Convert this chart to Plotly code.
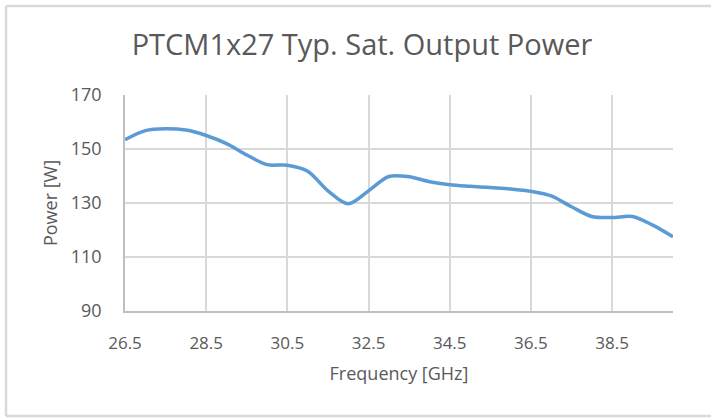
import plotly.graph_objects as go

freq = [26.5, 27.0, 27.5, 28.0, 28.5, 29.0, 29.5, 30.0, 30.5, 31.0, 31.5, 32.0, 32.5, 33.0,
        33.5, 34.0, 34.5, 35.0, 35.5, 36.0, 36.5, 37.0, 37.5, 38.0, 38.5, 39.0, 39.5, 40.0]
power = [153.4, 156.8, 157.5, 157.0, 155.0, 152.0, 147.8, 144.2, 144.0, 141.8, 134.5, 129.7, 134.5, 139.8,
         139.7, 137.9, 136.8, 136.2, 135.7, 135.2, 134.3, 132.6, 128.6, 125.0, 124.6, 125.0, 121.8, 117.5]
x_ticks = [26.5, 28.5, 30.5, 32.5, 34.5, 36.5, 38.5]
y_ticks = [90, 110, 130, 150, 170]

W, H = 711, 419
L, R, T, B = 125, 673, 95, 311
pw, ph = R - L, B - T

def px(x):
    return (x - L) / pw

def py(y):
    return (B - y) / ph

font = "Open Sans"
txt = "#595959"
border = dict(color="#d9d9d9", width=2.5)

fig = go.Figure()
fig.add_trace(go.Scatter(x=freq, y=power, mode="lines",
                         line=dict(color="#5b9bd5", width=3.5, shape="spline", smoothing=0.9),
                         hoverinfo="x+y"))

fig.update_layout(
    width=W, height=H,
    margin=dict(l=L, r=W - R, t=T, b=H - B, autoexpand=False),
    paper_bgcolor="white", plot_bgcolor="white",
    showlegend=False,
    title=dict(text="PTCM1x27 Typ. Sat. Output Power", x=362 / W, xref="container",
               xanchor="center", y=1 - 45 / H, yref="container", yanchor="middle",
               font=dict(family=font, size=29, color=txt)),
    font=dict(family=font, color=txt),
    xaxis=dict(range=[26.5, 40], tickvals=x_ticks, ticktext=[f"{v}" for v in x_ticks],
               showgrid=True, gridcolor="#d9d9d9", gridwidth=1.5, automargin=False,
               showline=True, linecolor="#bfbfbf", linewidth=1.5, zeroline=False,
               ticks="", ticklabelstandoff=16,
               tickfont=dict(family=font, size=17, color=txt),
               title=dict(text="Frequency [GHz]", standoff=14,
                          font=dict(family=font, size=18, color=txt))),
    yaxis=dict(range=[90, 170], tickvals=y_ticks, automargin=False,
               showgrid=True, gridcolor="#d9d9d9", gridwidth=1.5,
               showline=True, linecolor="#bfbfbf", linewidth=1.5, zeroline=False,
               ticks="", ticklabelstandoff=18,
               tickfont=dict(family=font, size=18, color=txt),
               title=dict(text="Power [W]", standoff=8,
                          font=dict(family=font, size=18, color=txt))),
    shapes=[
        dict(type="line", xref="paper", yref="paper", x0=px(6), x1=px(720), y0=py(6), y1=py(6), line=border, layer="below"),
        dict(type="line", xref="paper", yref="paper", x0=px(6), x1=px(6), y0=py(6), y1=py(416), line=border, layer="below"),
        dict(type="line", xref="paper", yref="paper", x0=px(6), x1=px(720), y0=py(416), y1=py(416), line=border, layer="below"),
    ],
)

fig.write_html("out.html", config={"displayModeBar": False},
               post_script="document.body.style.margin='0';document.body.style.overflow='hidden';document.documentElement.style.overflow='hidden';")
